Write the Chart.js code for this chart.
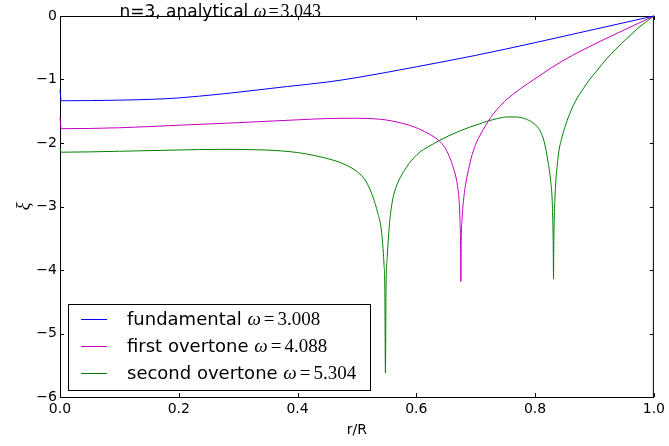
<!DOCTYPE html>
<html lang="en">
<head>
<meta charset="UTF-8" />
<title>n=3 eigenfunctions</title>
<script src="https://cdn.jsdelivr.net/npm/chart.js"></script>
<style>
  html, body { margin: 0; padding: 0; background: #fff; }
</style>
</head>
<body>
<canvas id="chart" width="669" height="446"></canvas>
<script>
  // values
  const seriesNames = ['fundamental', 'first overtone', 'second overtone'];
  const seriesOmega = ['3.008', '4.088', '5.304'];
  const seriesColors = ['#0000ff', '#bf00bf', '#008000'];
  const titleText = 'n=3, analytical';
  const titleOmega = '3.043';

  const xTicks = [0, 0.2, 0.4, 0.6, 0.8, 1.0];
  const yTicks = [-6, -5, -4, -3, -2, -1, 0];

  const fundamentalR  = [0, 0.002, 0.1, 0.16, 0.2, 0.27, 0.3, 0.383, 0.45, 0.5, 0.6, 0.7, 0.8, 0.9, 1.0];
  const fundamentalXi = [-1.16, -1.335, -1.325, -1.31, -1.29, -1.23, -1.2, -1.11, -1.04, -0.97, -0.8, -0.62, -0.42, -0.21, 0];

  const firstR  = [0, 0.002, 0.1, 0.2, 0.3, 0.4, 0.45, 0.5, 0.538, 0.56, 0.588, 0.605, 0.622, 0.639, 0.648, 0.655,
                   0.661, 0.667, 0.67, 0.672, 0.6735, 0.6745, 0.675, 0.6755, 0.677, 0.679, 0.683, 0.688, 0.692, 0.7,
                   0.709, 0.717, 0.725, 0.736, 0.748, 0.762, 0.776, 0.798, 0.83, 0.863, 0.89, 0.916, 0.95, 0.975, 1.0];
  const firstXi = [-1.6, -1.775, -1.76, -1.72, -1.68, -1.635, -1.615, -1.61, -1.625, -1.655, -1.72, -1.78, -1.86, -1.97, -2.07, -2.2,
                   -2.35, -2.55, -2.72, -2.9, -3.2, -3.6, -4.18, -3.6, -3.2, -2.95, -2.65, -2.42, -2.25, -2.02,
                   -1.85, -1.72, -1.6, -1.47, -1.35, -1.24, -1.14, -1.0, -0.8, -0.62, -0.49, -0.37, -0.22, -0.11, 0];

  const secondR  = [0, 0.002, 0.1, 0.2, 0.27, 0.345, 0.4, 0.43, 0.46, 0.48, 0.5, 0.515, 0.527, 0.535, 0.54, 0.543, 0.5455,
                    0.547, 0.548, 0.549, 0.551, 0.553, 0.555, 0.56, 0.565, 0.571, 0.58, 0.588, 0.605, 0.62, 0.639, 0.655,
                    0.672, 0.69, 0.706, 0.72, 0.737, 0.753, 0.768, 0.782, 0.796, 0.806, 0.811, 0.815, 0.821, 0.826, 0.8285,
                    0.8298, 0.8305, 0.831, 0.8315, 0.8322, 0.8335, 0.835, 0.8375, 0.84, 0.845, 0.852, 0.86, 0.868,
                    0.88, 0.891, 0.905, 0.919, 0.936, 0.955, 0.975, 1.0];
  const secondXi = [-2.08, -2.145, -2.13, -2.11, -2.1, -2.11, -2.15, -2.2, -2.27, -2.34, -2.45, -2.6, -2.85, -3.1, -3.3, -3.55, -3.9,
                    -4.3, -5.62, -4.3, -3.8, -3.5, -3.25, -2.9, -2.72, -2.58, -2.43, -2.32, -2.15, -2.06, -1.96, -1.885,
                    -1.815, -1.75, -1.7, -1.655, -1.615, -1.59, -1.59, -1.615, -1.68, -1.77, -1.86, -1.97, -2.25, -2.58, -2.85,
                    -3.2, -3.6, -4.14, -3.6, -3.2, -2.85, -2.58, -2.33, -2.13, -1.92, -1.7, -1.5, -1.34,
                    -1.16, -1.01, -0.85, -0.69, -0.52, -0.35, -0.18, 0];

  const seriesR  = [fundamentalR, firstR, secondR];
  const seriesXi = [fundamentalXi, firstXi, secondXi];

  const sans = "'DejaVu Sans', sans-serif";
  const serif = "'Liberation Serif', serif";

  function drawOmega(ctx, x0, base, val, size, gap) {
    ctx.font = 'italic ' + size + 'px ' + serif;
    ctx.fillText('ω', x0, base);
    let xx = x0 + ctx.measureText('ω').width + gap;
    ctx.font = size + 'px ' + serif;
    ctx.fillText('=', xx, base);
    xx += ctx.measureText('=').width + gap;
    ctx.fillText(val, xx, base);
  }

  // frame with inward ticks on all four sides, under the lines
  const frame = {
    id: 'frame',
    beforeDatasetsDraw(chart) {
      const { ctx, chartArea: a, scales: { x, y } } = chart;
      ctx.save();
      ctx.strokeStyle = '#000';
      ctx.lineWidth = 1;
      ctx.beginPath();
      xTicks.forEach(v => {
        const px = Math.round(x.getPixelForValue(v)) + 0.5;
        ctx.moveTo(px, a.bottom); ctx.lineTo(px, a.bottom - 4);
        ctx.moveTo(px, a.top); ctx.lineTo(px, a.top + 4);
      });
      yTicks.forEach(v => {
        const py = Math.round(y.getPixelForValue(v)) + 0.5;
        ctx.moveTo(a.left, py); ctx.lineTo(a.left + 4, py);
        ctx.moveTo(a.right, py); ctx.lineTo(a.right - 4, py);
      });
      ctx.stroke();
      ctx.strokeRect(a.left + 0.5, a.top + 0.5, a.right - a.left - 1, a.bottom - a.top);
      ctx.restore();
    }
  };

  // title text at data coords (0.1, 0) and the legend box
  const annotations = {
    id: 'annotations',
    afterDraw(chart) {
      const { ctx, scales: { x, y } } = chart;
      ctx.save();
      ctx.fillStyle = '#000';
      ctx.textBaseline = 'alphabetic';
      let tx = x.getPixelForValue(0.1);
      const ty = y.getPixelForValue(0) + 1;
      ctx.font = '17px ' + sans;
      ctx.fillText(titleText + ' ', tx, ty);
      tx += ctx.measureText(titleText + ' ').width;
      drawOmega(ctx, tx, ty, titleOmega, 18, 2);

      const bx = 68, by = 304, bw = 302, bh = 86;
      ctx.fillStyle = '#fff';
      ctx.fillRect(bx, by, bw, bh);
      ctx.strokeStyle = '#000';
      ctx.lineWidth = 1;
      ctx.strokeRect(bx + 0.5, by + 0.5, bw, bh);
      chart.data.datasets.forEach((ds, i) => {
        const ly = by + 15 + i * 27;
        ctx.strokeStyle = ds.borderColor;
        ctx.beginPath();
        ctx.moveTo(81, ly + 0.5);
        ctx.lineTo(107, ly + 0.5);
        ctx.stroke();
        ctx.fillStyle = '#000';
        ctx.font = '18px ' + sans;
        const base = ly + 6;
        ctx.fillText(seriesNames[i] + ' ', 127, base);
        const w = ctx.measureText(seriesNames[i] + ' ').width;
        drawOmega(ctx, 127 + w, base, seriesOmega[i], 19, 3);
      });
      ctx.restore();
    }
  };

  const datasets = seriesNames.map((name, i) => ({
    label: name + ' ω=' + seriesOmega[i],
    data: seriesR[i].map((r, j) => ({ x: r, y: seriesXi[i][j] })),
    borderColor: seriesColors[i],
    backgroundColor: seriesColors[i],
    borderWidth: 1,
    pointRadius: 0,
    cubicInterpolationMode: 'monotone',
    clip: 2,
    fill: false
  }));

  new Chart(document.getElementById('chart'), {
    type: 'line',
    data: { datasets },
    plugins: [frame, annotations],
    options: {
      responsive: false,
      animation: false,
      layout: { padding: { top: 16, right: 14, left: 0, bottom: 0 } },
      plugins: { legend: { display: false }, tooltip: { enabled: false } },
      scales: {
        x: {
          type: 'linear', min: 0, max: 1,
          afterBuildTicks: s => { s.ticks = xTicks.map(v => ({ value: v })); },
          afterFit: s => { s.height = 49; },
          grid: { display: false, drawTicks: false },
          border: { display: false },
          ticks: { color: '#000', padding: 4, maxRotation: 0, autoSkip: false,
                   font: { family: sans, size: 14 }, callback: v => v.toFixed(1) },
          title: { display: true, text: 'r/R', color: '#000', font: { family: sans, size: 14 },
                   padding: { top: 0, bottom: 7 } }
        },
        y: {
          type: 'linear', min: -6, max: 0,
          afterBuildTicks: s => { s.ticks = yTicks.map(v => ({ value: v })); },
          afterFit: s => { s.width = 60; },
          grid: { display: false, drawTicks: false },
          border: { display: false },
          ticks: { color: '#000', padding: 3, autoSkip: false,
                   font: { family: sans, size: 14 }, callback: v => (v < 0 ? '\u2212' + Math.abs(v) : '0') },
          title: { display: true, text: 'ξ', color: '#000', font: { family: serif, size: 18, style: 'italic' },
                   padding: { top: 13, bottom: 0 } }
        }
      }
    }
  });
</script>
</body>
</html>
